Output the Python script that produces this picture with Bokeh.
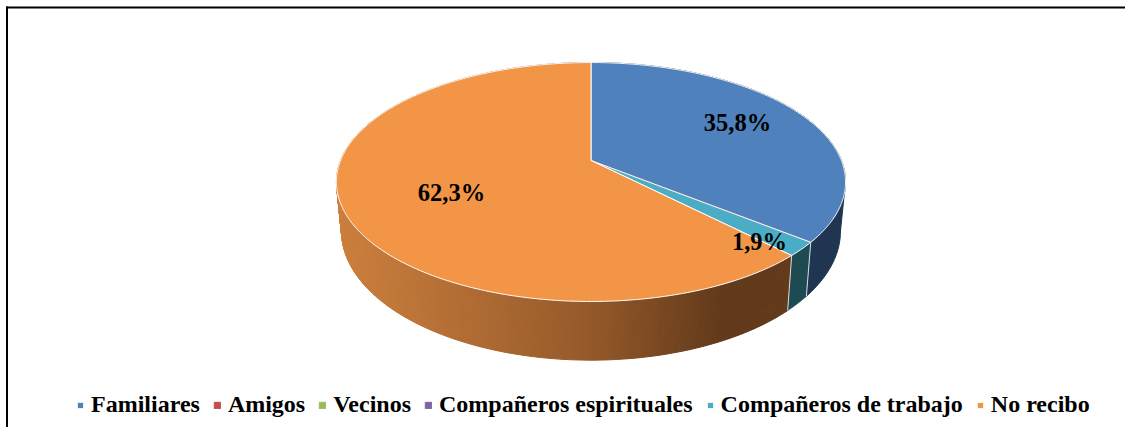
from bokeh.plotting import figure
from bokeh.models import Range1d, Legend, LegendItem
from bokeh.core.properties import value
from bokeh.embed import file_html
from bokeh.resources import INLINE
import numpy as np

categories = ["Familiares", "Amigos", "Vecinos", "Compañeros espirituales", "Compañeros de trabajo", "No recibo"]
values = [35.8, 0.0, 0.0, 0.0, 1.9, 62.3]
labels = ["35,8%", None, None, None, "1,9%", "62,3%"]
colors = ["#4F81BD", "#C0504D", "#9BBB59", "#8064A2", "#4BACC6", "#F39547"]
wall_colors = ["#1F3552", None, None, None, "#1E4A52", None]
label_pos = [(737, 122), None, None, None, (759, 241), (451, 192)]

WALL_L = np.array([205, 128, 62])
WALL_M = np.array([150, 90, 42])
WALL_R = np.array([98, 58, 27])

CX, CY = 590.5, 160.0
A, B, K = 250.4, 115.6, -0.18
SX, SY, DY = 0.98, 1.08, 47.4


def top_pt(th):
    u, v = np.sin(th), -np.cos(th)
    d = 1 + K * v
    return A * u / d, B * v / d


def top_xy(th):
    x, y = top_pt(th)
    return CX + x, CY + y


def bot_xy(th):
    x, y = top_pt(th)
    return CX + SX * x, CY + SY * y + DY


p = figure(width=1125, height=427, output_backend="svg", toolbar_location=None,
           x_range=Range1d(0, 1125), y_range=Range1d(427, 0), min_border=0,
           outline_line_color=None)
p.xaxis.visible = False
p.yaxis.visible = False
p.grid.visible = False

total = sum(values)
starts = np.cumsum([0] + values[:-1]) / total * 2 * np.pi
ends = np.cumsum(values) / total * 2 * np.pi

# straight silhouette of the drum between the top and bottom rims
grid = np.linspace(0, 2 * np.pi, 2000)
gx, _ = top_xy(grid)
for th, col in ((grid[gx.argmax()], wall_colors[0]), (grid[gx.argmin()], "#%02x%02x%02x" % tuple(WALL_L))):
    xt, yt = top_xy(np.array([th]))
    xb, yb = bot_xy(np.array([th]))
    p.patch([xt[0], xb[0], CX], [yt[0], yb[0], yb[0]], fill_color=col, line_color=col, line_width=1)

# side wall
for i, v in enumerate(values):
    if v == 0:
        continue
    th0, th1 = starts[i], ends[i]
    if wall_colors[i]:
        t = np.linspace(th0, th1, 120)
        xt, yt = top_xy(t)
        xb, yb = bot_xy(t)
        p.patch(np.r_[xt, xb[::-1]], np.r_[yt, yb[::-1]], fill_color=wall_colors[i],
                line_color=wall_colors[i], line_width=1)
    else:
        t = np.linspace(th0, th1, 400)
        xs, ys, cs = [], [], []
        for a, b in zip(t[:-1], t[1:]):
            seg = np.array([a, b])
            xt, yt = top_xy(seg)
            xb, yb = bot_xy(seg)
            xs.append(list(np.r_[xt, xb[::-1]]))
            ys.append(list(np.r_[yt, yb[::-1]]))
            f = (xt.mean() - 336) / (790 - 336)
            f = min(max(f, 0), 1)
            c = WALL_L + (WALL_M - WALL_L) * f / .55 if f < .55 else WALL_M + (WALL_R - WALL_M) * min((f - .55) / .30, 1)
            cs.append("#%02x%02x%02x" % tuple(int(q) for q in c))
        p.patches(xs, ys, fill_color=cs, line_color=cs, line_width=1)

# light seams where the visible slices meet on the wall
for th in (ends[0], ends[4]):
    xt, yt = top_xy(np.array([th]))
    xb, yb = bot_xy(np.array([th]))
    p.line([xt[0], xb[0]], [yt[0], yb[0]], line_color="#D8DEE4", line_width=1)

# top face
renderers = []
for i, v in enumerate(values):
    t = np.linspace(starts[i], ends[i], max(2, int(v * 8)))
    xt, yt = top_xy(t)
    r = p.patch(np.r_[CX, xt], np.r_[CY, yt], fill_color=colors[i],
                line_color="white" if v else colors[i], line_width=1)
    renderers.append(r)

for i, pos in enumerate(label_pos):
    if pos:
        p.text([pos[0]], [pos[1]], text=[labels[i]], text_font=value("Liberation Serif"),
               text_font_style="bold", text_font_size="24.5px", text_color="black",
               text_align="center", text_baseline="middle")

legend = Legend(items=[LegendItem(label=c, renderers=[r]) for c, r in zip(categories, renderers)],
                orientation="horizontal", location=(76, 9), glyph_width=8, glyph_height=8,
                label_standoff=7, spacing=13, padding=0, margin=0,
                background_fill_alpha=0, border_line_color=None,
                label_text_font="Liberation Serif", label_text_font_style="bold",
                label_text_font_size="24px", label_text_color="black")
p.add_layout(legend, "center")

# chart frame: top and left rules only
p.multi_line([[6.5, 6.5], [5.5, 1125]], [[6, 427], [7, 7]], line_color="black", line_width=2)

open("out.html", "w").write(file_html(p, INLINE))
